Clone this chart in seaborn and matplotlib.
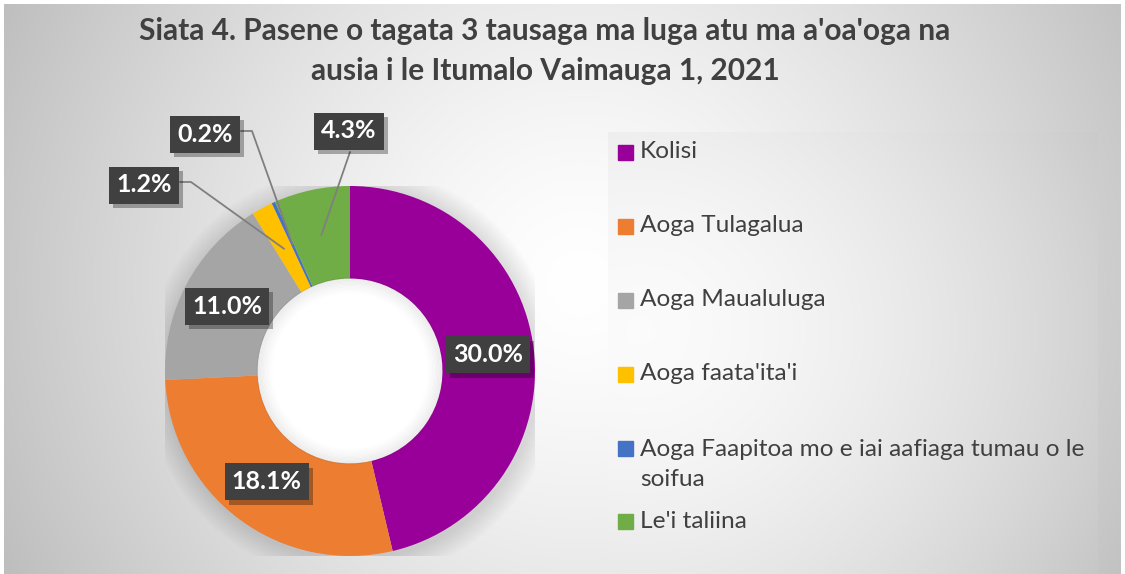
import numpy as np
import matplotlib
matplotlib.use("Agg")
import matplotlib.pyplot as plt
import matplotlib.patheffects as pe
import seaborn as sns
from matplotlib.patches import Rectangle, Circle

# ---- data ----
categories = ["Kolisi", "Aoga Tulagalua", "Aoga Maualuluga", "Aoga faata'ita'i",
              "Aoga Faapitoa mo e iai aafiaga tumau o le\nsoifua", "Le'i taliina"]
values = [30.0, 18.1, 11.0, 1.2, 0.2, 4.3]
value_labels = ["30.0%", "18.1%", "11.0%", "1.2%", "0.2%", "4.3%"]
colors = ["#990099", "#ED7D31", "#A5A5A5", "#FFC000", "#4472C4", "#70AD47"]
title = "Siata 4. Pasene o tagata 3 tausaga ma luga atu ma a'oa'oga na\nausia i le Itumalo Vaimauga 1, 2021"

sns.set_theme(style="white")
plt.rcParams["font.family"] = ["Lato", "DejaVu Sans"]

W, H = 1125, 574
fig = plt.figure(figsize=(W / 100, H / 100), dpi=100)

# background axes in pixel coordinates
bg = fig.add_axes([0, 0, 1, 1], zorder=0)
bg.set_xlim(0, W)
bg.set_ylim(H, 0)
bg.axis("off")

yy, xx = np.mgrid[0:H, 0:W]
d = np.hypot(xx - 580, (yy - 280) * 1.0) / 620.0
val = 1.0 - 0.24 * np.clip(d, 0, 1.3) ** 1.4
img = np.dstack([val, val, val])
bg.imshow(img, extent=(4, 1121, H, 4), aspect="auto", zorder=0, interpolation="bilinear")

# legend box gradient
lx0, lx1, ly0, ly1 = 608, 1098, 132, H
ly, lxg = np.mgrid[ly0:ly1, lx0:lx1]
d2 = np.hypot(lxg - 640, (ly - 330) * 1.1) / 470.0
val2 = 0.985 - 0.17 * np.clip(d2, 0, 1.2) ** 1.6
bg.imshow(np.dstack([val2, val2, val2]), extent=(lx0, lx1, ly1, ly0), aspect="auto",
          zorder=1, interpolation="bilinear")
bg.set_xlim(0, W)
bg.set_ylim(H, 0)

# title
bg.text(545, 51, title, ha="center", va="center", fontsize=21.5, fontweight="bold",
        color="#404040", linespacing=1.5, zorder=3)

# pie axes: center (350,371), radius 185 px
cx, cy, R = 350, 371, 185
ax = fig.add_axes([(cx - R) / W, (H - cy - R) / H, 2 * R / W, 2 * R / H], zorder=1)
ax.axis("off")

# soft outer shadow
for i in range(10):
    ax.add_patch(Circle((0.012, -0.015), 1.0 + 0.012 * (10 - i), color="black",
                        alpha=0.012, lw=0, zorder=0))

wedges, _ = ax.pie(values, colors=colors, startangle=90, counterclock=False,
                   radius=1.0, wedgeprops=dict(width=0.5, edgecolor="none"))
for w in wedges:
    w.set_zorder(2)

# hole with inner shadow
ax.add_patch(Circle((0, 0), 0.5, color="white", lw=0, zorder=1))
for i in range(12):
    ax.add_patch(Circle((0, 0), 0.5 - 0.007 * i, fill=False, lw=1.4,
                        color="black", alpha=0.05 * (12 - i) / 12, zorder=3))

ax.set_xlim(-1, 1)
ax.set_ylim(-1, 1)


def to_px(xd, yd):
    return cx + xd * R, cy - yd * R


def label_box(x, y, s):
    t = ax.text(x, y, s, color="white", zorder=6, ha="center", va="center",
                fontsize=18, fontweight="bold", transform=bg.transData, clip_on=False,
                bbox=dict(boxstyle="square,pad=0.28", fc="#404040", ec="none"))
    t.get_bbox_patch().set_path_effects(
        [pe.SimplePatchShadow(offset=(3, -3), shadow_rgbFace="black", alpha=0.3), pe.Normal()])


# label anchors at wedge mid-angles
anchors = []
for w in wedges:
    ang = np.deg2rad((w.theta1 + w.theta2) / 2)
    anchors.append(to_px(0.75 * np.cos(ang), 0.75 * np.sin(ang)))

# inside labels
for i in range(3):
    label_box(anchors[i][0], anchors[i][1], value_labels[i])

# outside labels with leader lines (pixel layout)
outside = {3: (144, 185), 4: (205, 134), 5: (349, 131)}
lc = "#7F7F7F"
for i, (x, y) in outside.items():
    ax_, ay_ = anchors[i]
    if i in (3, 4):
        xs = [x + 36, x + 47, ax_]
        ys = [y - 3, y - 3, ay_]
    else:
        xs = [x + 1, ax_]
        ys = [y + 21, ay_]
    ax.plot(xs, ys, color=lc, lw=1.3, transform=bg.transData, clip_on=False, zorder=4)
    label_box(x, y, value_labels[i])

# manual legend
leg_y = [152, 226, 300, 374, 448, 521]
for c, lab, y in zip(colors, categories, leg_y):
    bg.add_patch(Rectangle((618, y - 7.5), 15, 15, color=c, zorder=3))
    bg.text(640, y - (9 if "\n" in lab else 0), lab, ha="left",
            va="top" if "\n" in lab else "center",
            fontsize=17.6, color="#404040", zorder=3, linespacing=1.55)

fig.savefig("out.png", dpi=100)
